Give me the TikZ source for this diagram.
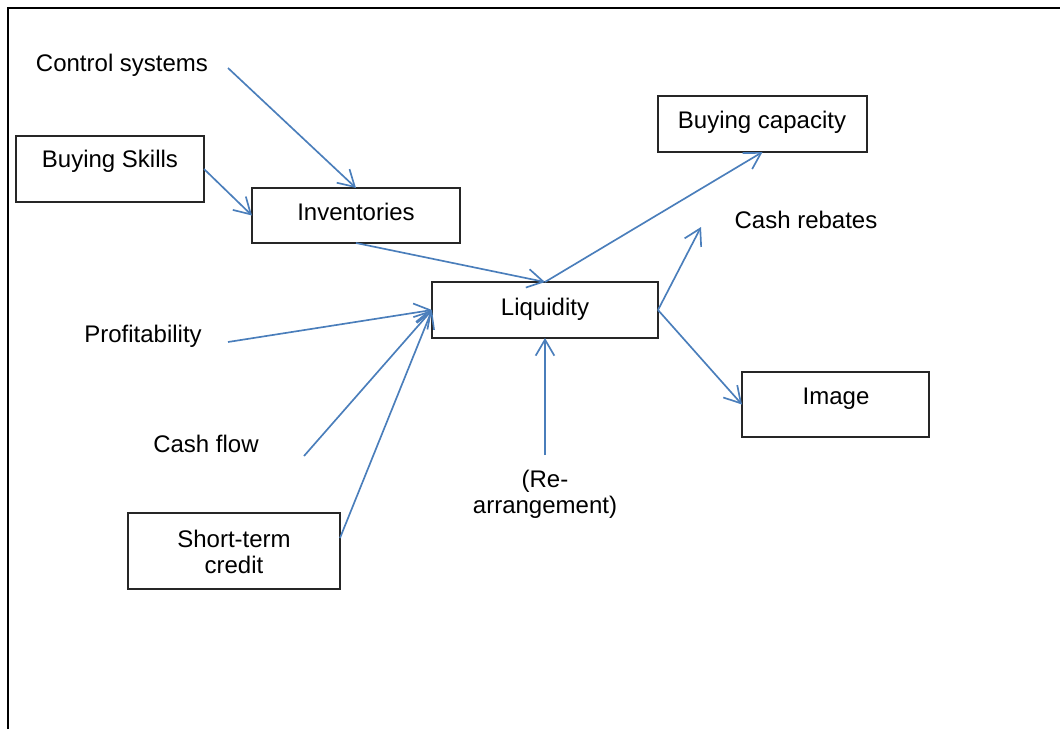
\documentclass[tikz,border=0pt]{standalone}
\usepackage{fontspec}
\setmainfont{Liberation Sans}
\usetikzlibrary{arrows.meta}
\definecolor{linkblue}{RGB}{74,126,187}
\begin{document}
\begin{tikzpicture}[x=0.75pt,y=-0.75pt,
  every node/.style={font=\fontsize{18}{19.5}\selectfont, text=black},
  box/.style={draw=black!85, line width=1pt, inner sep=0pt, outer sep=0pt},
  lbl/.style={anchor=base, inner sep=0pt},
  link/.style={draw=linkblue, line width=1.25pt,
    -{Straight Barb[length=12pt,width=14pt,line width=1.25pt]}}]
  \useasboundingbox (0,0) rectangle (1060,729);
  % page frame
  \draw[line width=1.6pt] (8,729) -- (8,8) -- (1060,8);

  % boxes
  \node[box, minimum width=141pt,   minimum height=49.5pt]  (skills) at (110,169) {};
  \node[box, minimum width=156pt,   minimum height=41.25pt] (inv)    at (356,215.5) {};
  \node[box, minimum width=156.75pt,minimum height=42pt]    (bcap)   at (762.5,124) {};
  \node[box, minimum width=169.5pt, minimum height=42pt]    (liq)    at (545,310) {};
  \node[box, minimum width=140.25pt,minimum height=48.75pt] (img)    at (835.5,404.5) {};
  \node[box, minimum width=159pt,   minimum height=57pt]    (stc)    at (234,551) {};

  % labels
  \node[lbl] (ctrlT)   at (122,71)  {Control systems};
  \node[lbl] (skillsT) at (110,167) {Buying Skills};
  \node[lbl] (invT)    at (356,220) {Inventories};
  \node[lbl] (bcapT)   at (762,128) {Buying capacity};
  \node[lbl] (rebT)    at (806,228) {Cash rebates};
  \node[lbl] (liqT)    at (545,315) {Liquidity};
  \node[lbl] (profT)   at (143,342) {Profitability};
  \node[lbl] (imgT)    at (836,404) {Image};
  \node[lbl] (cfT)     at (206,452) {Cash flow};
  \node[align=center, inner sep=0pt] (reT)  at (545,494) {(Re-\\arrangement)};
  \node[align=center, inner sep=0pt] (stcT) at (234,552) {Short-term\\credit};

  % free ends of connectors
  \coordinate (ctrl) at (228,68);
  \coordinate (reb)  at (701,227);
  \coordinate (prof) at (228,342);
  \coordinate (cf)   at (304,456);
  \coordinate (re)   at (545,455);

  % connectors
  \draw[link] (ctrl) -- (inv.north);
  \draw[link] (skills.east) -- (inv.west);
  \draw[link] (inv.south) -- (liq.north);
  \draw[link] (liq.north) -- (bcap.south);
  \draw[link] (liq.east) -- (reb);
  \draw[link] (liq.east) -- (img.west);
  \draw[link] (prof) -- (liq.west);
  \draw[link] (cf) -- (liq.west);
  \draw[link] (stc.7) -- (liq.west);
  \draw[link] (re) -- (liq.south);
\end{tikzpicture}
\end{document}
